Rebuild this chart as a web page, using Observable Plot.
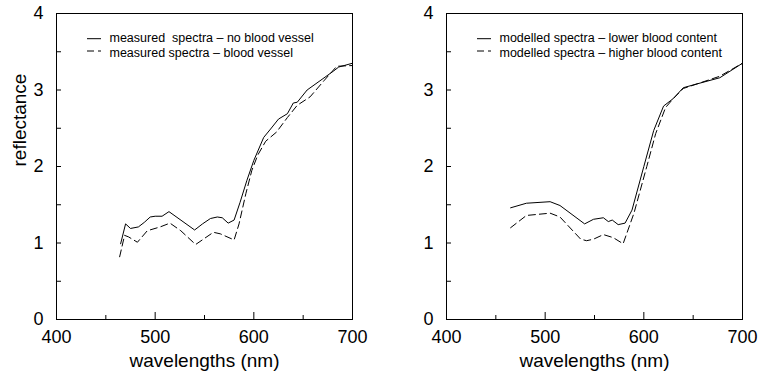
<!DOCTYPE html>
<html><head><meta charset="utf-8">
<script src="https://cdn.jsdelivr.net/npm/d3@7"></script>
<script src="https://cdn.jsdelivr.net/npm/@observablehq/plot@0.6"></script>
<style>
body{margin:0;background:#fff}
#chart{position:relative;width:760px;height:378px;background:#fff}
#chart svg{position:absolute;top:0}
</style></head><body><div id="chart"></div>
<script>
const xTickLabels = [400, 500, 600, 700];
const xMinorTicks = [450, 550, 650];
const yTickLabels = [0, 1, 2, 3, 4];
const yMinorTicks = [0.5, 1.5, 2.5, 3.5];
const xTitle = "wavelengths (nm)";
const yTitle = "reflectance";
const leftLegend = ["measured\u00a0 spectra \u2013 no blood vessel", "measured spectra \u2013 blood vessel"];
const rightLegend = ["modelled spectra \u2013 lower blood content", "modelled spectra \u2013 higher blood content"];

// measured spectra - no blood vessel (solid)
const measNoVesselWl = [465, 470, 475, 483, 489, 495, 500, 507, 514, 540, 548, 556, 563, 568, 574, 580, 586, 593, 600, 610, 617, 625, 634, 640, 644, 654, 667, 681, 686, 700];
const measNoVesselR  = [0.99, 1.25, 1.19, 1.21, 1.27, 1.34, 1.35, 1.35, 1.41, 1.17, 1.25, 1.32, 1.34, 1.33, 1.26, 1.30, 1.53, 1.82, 2.08, 2.38, 2.49, 2.62, 2.69, 2.83, 2.84, 3.00, 3.12, 3.25, 3.30, 3.35];
// measured spectra - blood vessel (dashed)
const measVesselWl = [464, 469, 473, 482, 492, 505, 515, 526, 541, 550, 559, 566, 580, 585, 592, 598, 604, 612, 623, 634, 644, 657, 671, 684, 700];
const measVesselR  = [0.82, 1.10, 1.08, 1.01, 1.16, 1.21, 1.26, 1.16, 0.98, 1.06, 1.14, 1.12, 1.04, 1.25, 1.65, 1.95, 2.15, 2.33, 2.45, 2.64, 2.80, 2.91, 3.12, 3.31, 3.32];
// modelled spectra - lower blood content (solid)
const modLowWl = [465, 481, 505, 515, 540, 549, 559, 564, 568, 574, 581, 588, 600, 610, 620, 630, 640, 654, 677, 700];
const modLowR  = [1.46, 1.52, 1.54, 1.49, 1.25, 1.31, 1.33, 1.28, 1.30, 1.24, 1.26, 1.43, 2.00, 2.47, 2.79, 2.89, 3.03, 3.08, 3.16, 3.35];
// modelled spectra - higher blood content (dashed)
const modHighWl = [465, 481, 505, 515, 536, 542, 549, 559, 569, 579, 590, 603, 612, 622, 630, 640, 654, 677, 700];
const modHighR  = [1.20, 1.36, 1.39, 1.34, 1.05, 1.03, 1.05, 1.11, 1.07, 0.99, 1.39, 2.00, 2.43, 2.77, 2.89, 3.02, 3.08, 3.18, 3.35];

const zip = (w, r) => w.map((d, i) => ({wl: d, r: r[i]}));
const DASH = "7,4";
const W = 380, H = 378, MT = 13, MB = 59;

function panel({solid, dashed, legend, marginLeft, marginRight, showYTitle, offset}) {
  const innerW = W - marginLeft - marginRight;
  const innerH = H - MT - MB;
  const marks = [
    Plot.frame({stroke: "#000", strokeWidth: 1}),
    Plot.tickX(xTickLabels, {x: d => d, stroke: "#000", insetTop: innerH - 7}),
    Plot.tickX(xMinorTicks, {x: d => d, stroke: "#000", insetTop: innerH - 4}),
    Plot.tickY(yTickLabels.concat(yMinorTicks), {y: d => d, stroke: "#000", insetRight: innerW - 5}),
    Plot.axisX({ticks: xTickLabels, tickSize: 0, tickPadding: 11, fontSize: 18, label: null, tickFormat: d => String(d)}),
    Plot.axisY({ticks: yTickLabels, tickSize: 0, tickPadding: 13, fontSize: 18, label: null, tickFormat: d => String(d)}),
    Plot.line(solid, {x: "wl", y: "r", stroke: "#000", strokeWidth: 1}),
    Plot.line(dashed, {x: "wl", y: "r", stroke: "#000", strokeWidth: 1, strokeDasharray: DASH}),
    Plot.text([xTitle], {frameAnchor: "bottom", dy: 47, fontSize: 19, fill: "#000"})
  ];
  if (showYTitle) marks.push(Plot.text([yTitle], {frameAnchor: "left", rotate: -90, dx: -37, fontSize: 19, fill: "#000"}));
  const svg = Plot.plot({
    width: W, height: H,
    marginTop: MT, marginBottom: MB, marginLeft, marginRight,
    x: {domain: [400, 700]},
    y: {domain: [0, 4]},
    style: {fontFamily: "'Liberation Sans', Arial, Helvetica, sans-serif", color: "#000", background: "transparent", overflow: "visible"},
    marks
  });
  svg.style.left = offset + "px";
  const s = d3.select(svg);
  const lx0 = marginLeft + 31, lx1 = lx0 + 14, tx = lx0 + 22.5;
  const lineY = [38.7, 51], baseY = [42.3, 56.5];
  legend.forEach((lab, i) => {
    s.append("line").attr("x1", lx0).attr("x2", lx1).attr("y1", lineY[i]).attr("y2", lineY[i])
      .attr("stroke", "#000").attr("stroke-width", 1).attr("stroke-dasharray", i === 1 ? DASH : null);
    s.append("text").attr("x", tx).attr("y", baseY[i]).attr("font-size", 12.5)
      .attr("text-anchor", "start")
      .attr("font-family", "'Liberation Sans', Arial, sans-serif").attr("fill", "#000").text(lab);
  });
  return svg;
}

const chart = document.getElementById("chart");
chart.appendChild(panel({solid: zip(measNoVesselWl, measNoVesselR), dashed: zip(measVesselWl, measVesselR), legend: leftLegend, marginLeft: 56, marginRight: 28, showYTitle: true, offset: 0}));
chart.appendChild(panel({solid: zip(modLowWl, modLowR), dashed: zip(modHighWl, modHighR), legend: rightLegend, marginLeft: 66, marginRight: 18, showYTitle: false, offset: 380}));
</script></body></html>
